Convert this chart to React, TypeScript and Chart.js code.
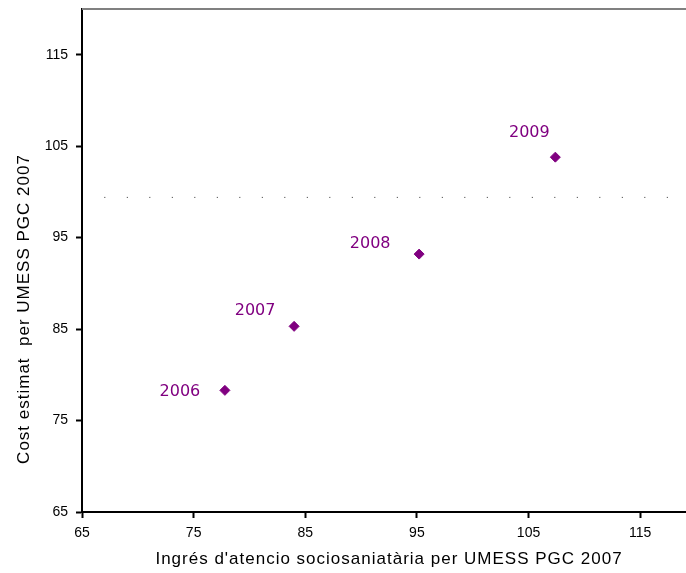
import React, { useEffect, useRef } from "react";
import { Chart, registerables } from "chart.js";

Chart.register(...registerables);

const years = ["2006", "2007", "2008", "2009"];
const incomeX = [77.8, 84.0, 95.2, 107.4];
const costY = [78.3, 85.3, 93.2, 103.8];
const xTicks = [65, 75, 85, 95, 105, 115];
const yTicks = [65, 75, 85, 95, 105, 115];
const axisMin = 65;
const axisMax = 120;
const refLineX = [67, 117.6];
const refLineY = 99.4;
const xTitle = "Ingrés d'atencio sociosaniatària per UMESS PGC 2007";
const yTitle = "Cost estimat  per UMESS PGC 2007";

// label placement relative to each marker (style)
const labelOffsets = [
  [-45, 1],
  [-39, -16],
  [-49, -10],
  [-26, -24],
];

const PURPLE = "#800080";

const overlayPlugin = {
  id: "overlay",
  afterDraw(chart: any) {
    const { ctx, chartArea } = chart;
    ctx.save();
    // top frame line
    ctx.strokeStyle = "#808080";
    ctx.lineWidth = 2;
    ctx.beginPath();
    ctx.moveTo(chartArea.left, chartArea.top);
    ctx.lineTo(chartArea.right, chartArea.top);
    ctx.stroke();

    // point labels
    const meta = chart.getDatasetMeta(0);
    ctx.fillStyle = PURPLE;
    ctx.font = '16px "DejaVu Sans"';
    ctx.textAlign = "center";
    ctx.textBaseline = "middle";
    meta.data.forEach((el: any, i: number) => {
      const off = labelOffsets[i] || [0, 0];
      ctx.fillText(years[i], el.x + off[0], el.y + off[1]);
    });

    // axis titles
    ctx.fillStyle = "#000";
    ctx.font = '17px "Liberation Sans", Arial, sans-serif';
    (ctx as any).letterSpacing = "1px";
    ctx.textAlign = "center";
    ctx.textBaseline = "alphabetic";
    ctx.fillText(xTitle, (chartArea.left + chartArea.right) / 2, chartArea.bottom + 52);

    ctx.translate(29, 309);
    ctx.rotate(-Math.PI / 2);
    ctx.fillText(yTitle, 0, 0);
    ctx.restore();
  },
};

export default function App() {
  const ref = useRef<HTMLCanvasElement | null>(null);

  useEffect(() => {
    if (!ref.current) return;
    const points = incomeX.map((x, i) => ({ x, y: costY[i] }));
    const refLine = refLineX.map((x) => ({ x, y: refLineY }));
    const tickFont = { family: '"Liberation Sans", Arial, sans-serif', size: 14 };

    const chart = new Chart(ref.current, {
      type: "scatter",
      data: {
        datasets: [
          {
            type: "scatter",
            data: points,
            pointStyle: "rectRot",
            pointRadius: 5,
            pointBorderWidth: 1,
            backgroundColor: PURPLE,
            borderColor: PURPLE,
          } as any,
          {
            type: "line",
            data: refLine,
            borderColor: "#333",
            borderWidth: 1,
            borderDash: [1, 21.5],
            pointRadius: 0,
            fill: false,
          } as any,
        ],
      },
      options: {
        animation: false,
        responsive: false,
        devicePixelRatio: 1,
        layout: { padding: { top: 9, left: 0, right: 0, bottom: 0 } },
        plugins: {
          legend: { display: false },
          tooltip: { enabled: false },
        },
        scales: {
          x: {
            type: "linear",
            min: axisMin,
            max: axisMax,
            afterBuildTicks: (scale: any) => {
              scale.ticks = xTicks.map((v) => ({ value: v }));
            },
            afterFit: (scale: any) => {
              scale.height = 61;
              scale.paddingLeft = 0;
              scale.paddingRight = 0;
            },
            border: { display: true, color: "#000", width: 2 },
            grid: {
              display: true,
              drawOnChartArea: false,
              drawTicks: true,
              tickLength: 6,
              tickWidth: 2,
              tickColor: "#000",
            },
            ticks: {
              color: "#000",
              font: tickFont,
              padding: 7,
              maxRotation: 0,
              autoSkip: false,
              callback: (v: any) => String(v),
            },
          },
          y: {
            type: "linear",
            min: axisMin,
            max: axisMax,
            afterBuildTicks: (scale: any) => {
              scale.ticks = yTicks.map((v) => ({ value: v }));
            },
            afterFit: (scale: any) => {
              scale.width = 82;
              scale.paddingTop = 0;
              scale.paddingBottom = 0;
            },
            border: { display: true, color: "#000", width: 2 },
            grid: {
              display: true,
              drawOnChartArea: false,
              drawTicks: true,
              tickLength: 6,
              tickWidth: 2,
              tickColor: "#000",
            },
            ticks: {
              color: "#000",
              font: tickFont,
              padding: 8,
              autoSkip: false,
              callback: (v: any) => String(v),
            },
          },
        },
      },
      plugins: [overlayPlugin],
    });
    return () => chart.destroy();
  }, []);

  return (
    <div
      style={{
        position: "absolute",
        left: 0,
        top: 0,
        width: 686,
        height: 573,
        overflow: "hidden",
        background: "#fff",
      }}
    >
      <canvas ref={ref} width={702} height={573} style={{ display: "block" }} />
    </div>
  );
}
